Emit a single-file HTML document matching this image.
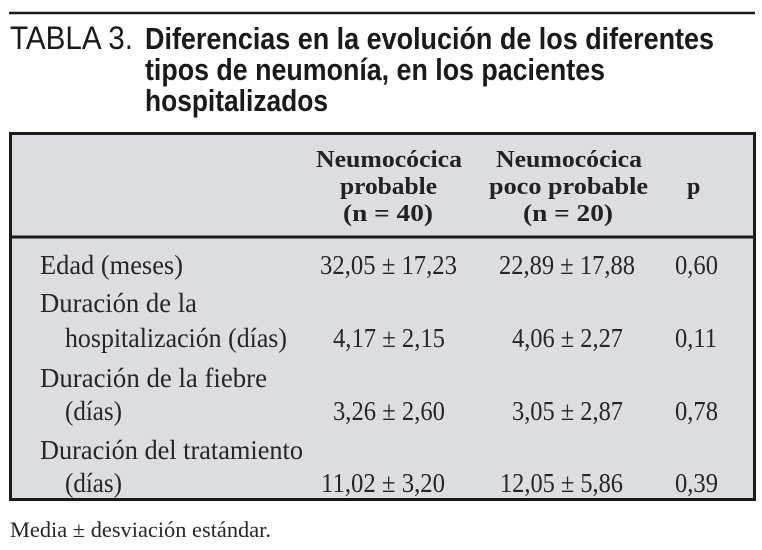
<!DOCTYPE html>
<html>
<head>
<meta charset="utf-8">
<style>
  html,body{margin:0;padding:0;background:#fff;}
  svg{display:block;}
  .ttl{font-family:"Liberation Sans",sans-serif;fill:#1a1a1a;}
  .hd{font-family:"Liberation Serif",serif;font-weight:bold;fill:#222;font-size:24px;}
  .bd{font-family:"Liberation Serif",serif;fill:#262626;font-size:27px;}
</style>
</head>
<body>
<svg width="762" height="550" viewBox="0 0 762 550" xmlns="http://www.w3.org/2000/svg">
  <rect x="0" y="0" width="762" height="550" fill="#fff"/>
  <!-- top rule -->
  <line x1="9" y1="13" x2="755" y2="13" stroke="#1a1a1a" stroke-width="2.5"/>
  <!-- title -->
  <text class="ttl" x="10" y="49" font-size="32" textLength="123" lengthAdjust="spacingAndGlyphs">TABLA 3.</text>
  <text class="ttl" x="145" y="49" font-size="31" font-weight="bold" textLength="569" lengthAdjust="spacingAndGlyphs">Diferencias en la evolución de los diferentes</text>
  <text class="ttl" x="145" y="80" font-size="31" font-weight="bold" textLength="460" lengthAdjust="spacingAndGlyphs">tipos de neumonía, en los pacientes</text>
  <text class="ttl" x="145" y="111" font-size="31" font-weight="bold" textLength="183" lengthAdjust="spacingAndGlyphs">hospitalizados</text>

  <!-- box -->
  <rect x="10.5" y="133.5" width="744" height="366" fill="#dcdde0" stroke="#1a1a1a" stroke-width="3"/>
  <line x1="9" y1="237" x2="756" y2="237" stroke="#1a1a1a" stroke-width="3"/>

  <!-- header -->
  <text class="hd" x="316" y="167" textLength="146" lengthAdjust="spacingAndGlyphs">Neumocócica</text>
  <text class="hd" x="340" y="194" textLength="97" lengthAdjust="spacingAndGlyphs">probable</text>
  <text class="hd" x="343" y="221" textLength="90" lengthAdjust="spacingAndGlyphs">(n = 40)</text>
  <text class="hd" x="496" y="167" textLength="146" lengthAdjust="spacingAndGlyphs">Neumocócica</text>
  <text class="hd" x="489" y="194" textLength="159" lengthAdjust="spacingAndGlyphs">poco probable</text>
  <text class="hd" x="523" y="221" textLength="90" lengthAdjust="spacingAndGlyphs">(n = 20)</text>
  <text class="hd" x="687" y="194">p</text>

  <!-- row 1 -->
  <text class="bd" x="40" y="274" textLength="143" lengthAdjust="spacingAndGlyphs">Edad (meses)</text>
  <text class="bd" x="320" y="274" textLength="137" lengthAdjust="spacingAndGlyphs">32,05 ± 17,23</text>
  <text class="bd" x="499" y="274" textLength="136" lengthAdjust="spacingAndGlyphs">22,89 ± 17,88</text>
  <text class="bd" x="675" y="274" textLength="43" lengthAdjust="spacingAndGlyphs">0,60</text>

  <!-- row 2 -->
  <text class="bd" x="40" y="312" textLength="157" lengthAdjust="spacingAndGlyphs">Duración de la</text>
  <text class="bd" x="65" y="347" textLength="222" lengthAdjust="spacingAndGlyphs">hospitalización (días)</text>
  <text class="bd" x="333" y="347" textLength="112" lengthAdjust="spacingAndGlyphs">4,17 ± 2,15</text>
  <text class="bd" x="512" y="347" textLength="111" lengthAdjust="spacingAndGlyphs">4,06 ± 2,27</text>
  <text class="bd" x="675" y="347" textLength="42" lengthAdjust="spacingAndGlyphs">0,11</text>

  <!-- row 3 -->
  <text class="bd" x="40" y="387" textLength="227" lengthAdjust="spacingAndGlyphs">Duración de la fiebre</text>
  <text class="bd" x="65" y="420" textLength="57" lengthAdjust="spacingAndGlyphs">(días)</text>
  <text class="bd" x="333" y="420" textLength="112" lengthAdjust="spacingAndGlyphs">3,26 ± 2,60</text>
  <text class="bd" x="512" y="420" textLength="111" lengthAdjust="spacingAndGlyphs">3,05 ± 2,87</text>
  <text class="bd" x="675" y="420" textLength="43" lengthAdjust="spacingAndGlyphs">0,78</text>

  <!-- row 4 -->
  <text class="bd" x="40" y="459" textLength="263" lengthAdjust="spacingAndGlyphs">Duración del tratamiento</text>
  <text class="bd" x="65" y="492" textLength="57" lengthAdjust="spacingAndGlyphs">(días)</text>
  <text class="bd" x="321" y="492" textLength="124" lengthAdjust="spacingAndGlyphs">11,02 ± 3,20</text>
  <text class="bd" x="500" y="492" textLength="123" lengthAdjust="spacingAndGlyphs">12,05 ± 5,86</text>
  <text class="bd" x="675" y="492" textLength="43" lengthAdjust="spacingAndGlyphs">0,39</text>

  <!-- footnote -->
  <text class="bd" x="10" y="537" style="font-size:22px" textLength="261" lengthAdjust="spacingAndGlyphs">Media ± desviación estándar.</text>
</svg>
</body>
</html>
